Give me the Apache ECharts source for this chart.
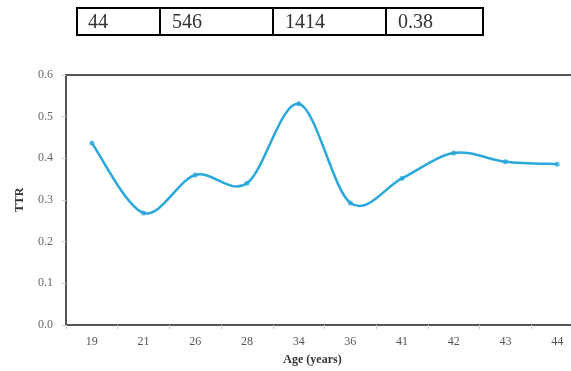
<!DOCTYPE html>
<html>
<head>
<meta charset="utf-8">
<script src="https://cdn.jsdelivr.net/npm/echarts@6/dist/echarts.min.js"></script>
<style>
html,body{margin:0;padding:0;background:#fff;overflow:hidden;width:571px;height:371px;}
#chart{width:600px;height:371px;}
</style>
</head>
<body>
<div id="chart"></div>
<script>
var ages = ['19','21','26','28','34','36','41','42','43','44'];
var ttr = [0.437, 0.269, 0.360, 0.340, 0.531, 0.293, 0.352, 0.413, 0.392, 0.386];
var tableRow = ['44', '546', '1414', '0.38'];
var yTicks = ['0.0','0.1','0.2','0.3','0.4','0.5','0.6'];

var chart = echarts.init(document.getElementById('chart'));

var cellX = [76, 160, 273, 386, 484];
var graphics = [{
  type: 'rect', shape: {x: 77, y: 8, width: 406, height: 27},
  style: {fill: '#fff', stroke: '#000', lineWidth: 2}
}];
for (var i = 1; i < 4; i++) {
  graphics.push({type: 'line', shape: {x1: cellX[i], y1: 8, x2: cellX[i], y2: 35},
    style: {stroke: '#000', lineWidth: 2}});
}
tableRow.forEach(function (t, i) {
  graphics.push({type: 'text', left: cellX[i] + 12, top: 13,
    style: {text: t, font: '20px "Liberation Serif", serif', fill: '#333'}});
});

var LINE = '#2aa8dc';

function renderCurve(params, api) {
  if (params.dataIndex !== 0) return null;
  var pts = ttr.map(function (v, i) { return api.coord([i, v]); });
  var d = 'M' + pts[0][0] + ' ' + pts[0][1];
  for (var k = 0; k < pts.length - 1; k++) {
    var p0 = pts[Math.max(k - 1, 0)], p1 = pts[k], p2 = pts[k + 1], p3 = pts[Math.min(k + 2, pts.length - 1)];
    var c1x = p1[0] + (p2[0] - p0[0]) / 6, c1y = p1[1] + (p2[1] - p0[1]) / 6;
    var c2x = p2[0] - (p3[0] - p1[0]) / 6, c2y = p2[1] - (p3[1] - p1[1]) / 6;
    d += ' C' + c1x + ' ' + c1y + ' ' + c2x + ' ' + c2y + ' ' + p2[0] + ' ' + p2[1];
  }
  return {type: 'path', shape: {pathData: d},
    style: {fill: 'none', stroke: LINE, lineWidth: 2.5}};
}

chart.setOption({
  backgroundColor: '#fff',
  animation: false,
  graphic: graphics,
  grid: {left: 66, top: 75, width: 517, height: 252, show: true,
    borderColor: '#555', borderWidth: 2, backgroundColor: '#fff'},
  xAxis: {
    type: 'category', data: ages, boundaryGap: true,
    name: 'Age (years)', nameLocation: 'middle', nameGap: 29,
    nameTextStyle: {fontFamily: 'Liberation Serif', fontWeight: 'bold', fontSize: 12, color: '#333',
      padding: [0, 24, 0, 0]},
    axisLine: {lineStyle: {color: '#555', width: 2}},
    axisTick: {show: true, length: 4, lineStyle: {color: '#ccc'}},
    axisLabel: {fontFamily: 'Liberation Serif', fontSize: 12, color: '#555', margin: 11}
  },
  yAxis: {
    type: 'value', min: 0, max: 0.6, interval: 0.1,
    name: 'TTR', nameLocation: 'middle', nameGap: 40, nameRotate: 90,
    nameTextStyle: {fontFamily: 'Liberation Serif', fontWeight: 'bold', fontSize: 12, color: '#333'},
    axisLine: {show: true, lineStyle: {color: '#555', width: 2}},
    axisTick: {show: true, length: 4, lineStyle: {color: '#ccc'}},
    splitLine: {show: false},
    axisLabel: {fontFamily: 'Liberation Serif', fontSize: 12, color: '#666', margin: 13,
      formatter: function (v) { return yTicks[Math.round(v * 10)]; }}
  },
  series: [{
    type: 'custom', renderItem: renderCurve,
    data: ttr.map(function (v, i) { return [i, v]; }),
    encode: {x: 0, y: 1}, z: 2
  }, {
    type: 'scatter', data: ttr, symbol: 'circle', symbolSize: 5,
    itemStyle: {color: LINE}, z: 3
  }]
});
</script>
</body>
</html>
